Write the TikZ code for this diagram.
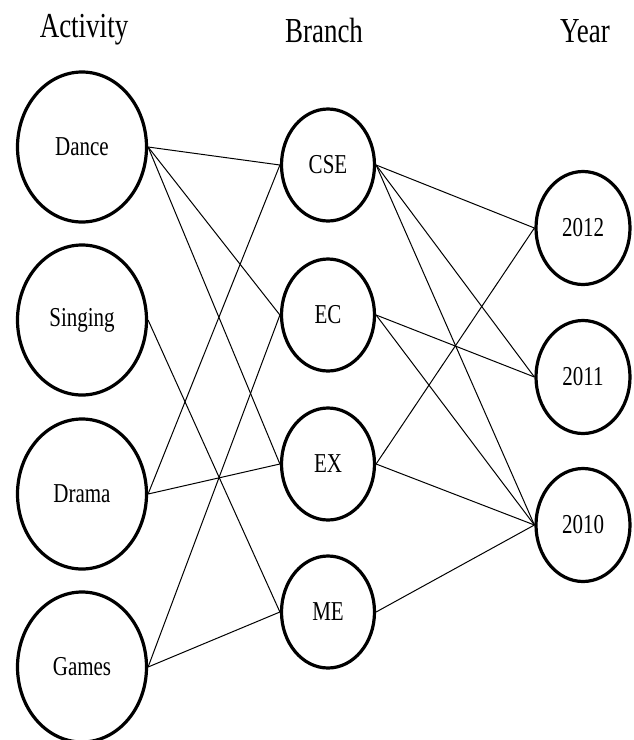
\documentclass[tikz,border=0pt]{standalone}
\usepackage{fontspec}
\usepackage{graphicx}
\setmainfont{Liberation Serif}
\usetikzlibrary{shapes.geometric}
% labels are set in a tall, narrow serif
\newcommand\tallText[1]{\scalebox{1}[1.3]{#1}}
\newcommand\lblfont{\fontsize{21}{21}\selectfont}
\newcommand\headfont{\fontsize{27}{27}\selectfont}
\begin{document}
\begin{tikzpicture}[x=1pt,y=-1pt,
  oval/.style={ellipse,draw,line width=3.2pt,inner sep=0pt,font=\lblfont},
  big/.style={oval,minimum width=129pt,minimum height=150pt},
  mid/.style={oval,minimum width=93pt,minimum height=112pt},
  yr/.style={oval,minimum width=94pt,minimum height=113pt},
  head/.style={inner sep=0pt,font=\headfont},
  link/.style={line width=1pt}]
\useasboundingbox (0,0) rectangle (633,740);

% column headings
\node[head] (hact) at (84,30) {\tallText{Activity}};
\node[head] (hbr)  at (324,30) {\tallText{Branch}};
\node[head] (hyr)  at (585,31) {\tallText{Year}};

% activities
\node[big] (dance)   at (82,147) {\tallText{Dance}};
\node[big] (singing) at (82,320) {\tallText{Singing}};
\node[big] (drama)   at (82,494) {\tallText{Drama}};
\node[big] (games)   at (82,667) {\tallText{Games}};

% branches
\node[mid] (cse) at (328,165) {\tallText{CSE}};
\node[mid] (ec)  at (328,315) {\tallText{EC}};
\node[mid] (ex)  at (328,464) {\tallText{EX}};
\node[mid] (me)  at (328,612) {\tallText{ME}};

% years
\node[yr] (y12) at (583,228) {\tallText{2012}};
\node[yr] (y11) at (583,377) {\tallText{2011}};
\node[yr] (y10) at (583,525) {\tallText{2010}};

% activity -> branch
\draw[link] (dance.east) -- (cse.west);
\draw[link] (dance.east) -- (ec.west);
\draw[link] (dance.east) -- (ex.west);
\draw[link] (singing.east) -- (me.west);
\draw[link] (drama.east) -- (cse.west);
\draw[link] (drama.east) -- (ex.west);
\draw[link] (games.east) -- (ec.west);
\draw[link] (games.east) -- (me.west);

% branch -> year
\draw[link] (cse.east) -- (y12.west);
\draw[link] (cse.east) -- (y11.west);
\draw[link] (cse.east) -- (y10.west);
\draw[link] (ec.east) -- (y11.west);
\draw[link] (ec.east) -- (y10.west);
\draw[link] (ex.east) -- (y12.west);
\draw[link] (ex.east) -- (y10.west);
\draw[link] (me.east) -- (y10.west);
\end{tikzpicture}
\end{document}
